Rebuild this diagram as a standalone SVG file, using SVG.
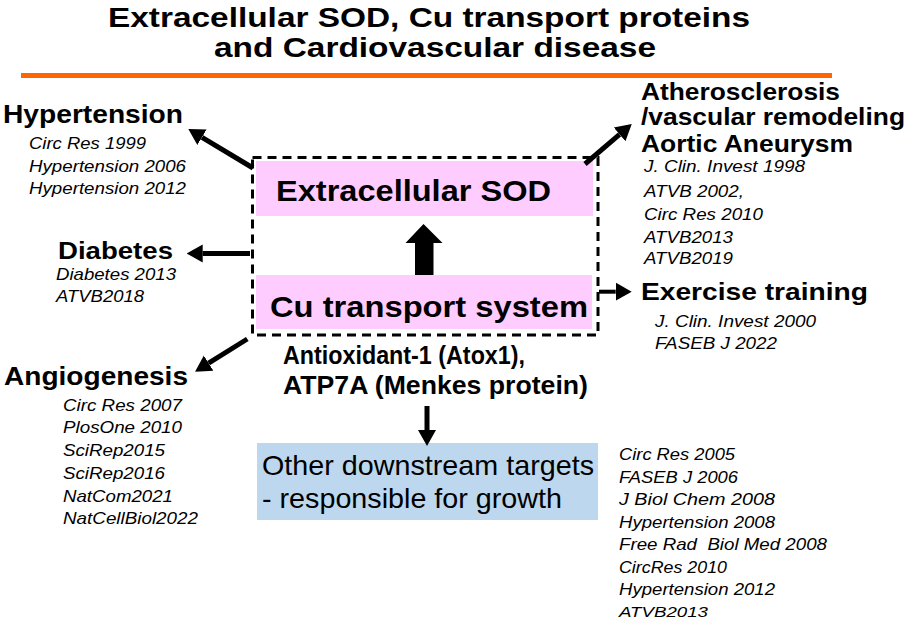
<svg xmlns="http://www.w3.org/2000/svg" width="907" height="621" viewBox="0 0 907 621">
<style>
text{font-family:"Liberation Sans",Arial,sans-serif;fill:#000}
.t{font-weight:bold;font-size:28px}
.h{font-weight:bold;font-size:25px}
.c{font-weight:bold;font-size:30px}
.s{font-weight:bold;font-size:24px}
.p{font-weight:bold;font-size:25px}
.r{font-style:italic;font-size:17px}
.b{font-size:28px}
.arr{stroke:#000;stroke-width:5;fill:none;marker-end:url(#ah)}
</style>
<defs>
<marker id="ah" viewBox="0 -10 16 20" refX="0" refY="0" markerWidth="16" markerHeight="20" markerUnits="userSpaceOnUse" orient="auto">
<path d="M0,-9 L16,0 L0,9 z" fill="#000"/>
</marker>
</defs>
<rect width="907" height="621" fill="#fff"/>
<g id="title">
<text class="t" x="108" y="27" textLength="642" lengthAdjust="spacingAndGlyphs">Extracellular SOD, Cu transport proteins</text>
<text class="t" x="214" y="57" textLength="442" lengthAdjust="spacingAndGlyphs">and Cardiovascular disease</text>
<rect x="21" y="73" width="811" height="5" fill="#FF6600"/>
</g>
<g id="center">
<rect x="252.5" y="157.5" width="345.5" height="177.5" fill="none" stroke="#000" stroke-width="3" stroke-dasharray="9 6"/>
</g>
<g id="ecsod">
<rect x="256" y="161" width="337" height="55" fill="#FFCCFF"/>
<text class="c" x="276" y="201" textLength="275" lengthAdjust="spacingAndGlyphs">Extracellular SOD</text>
</g>
<g id="cu">
<rect x="256" y="275" width="336" height="54" fill="#FFCCFF"/>
<text class="c" x="270" y="317" textLength="318" lengthAdjust="spacingAndGlyphs">Cu transport system</text>
</g>
<g id="proteins">
<text class="p" x="283" y="364" textLength="242" lengthAdjust="spacingAndGlyphs">Antioxidant-1 (Atox1),</text>
<text class="p" x="283" y="394" textLength="305" lengthAdjust="spacingAndGlyphs">ATP7A (Menkes protein)</text>
</g>
<g id="downstream">
<rect x="257" y="443" width="341" height="77" fill="#BDD7EE"/>
<text class="b" x="262" y="475" textLength="332" lengthAdjust="spacingAndGlyphs">Other downstream targets</text>
<text class="b" x="262" y="508" textLength="300" lengthAdjust="spacingAndGlyphs">- responsible for growth</text>
</g>
<g id="hypertension">
<text class="h" x="3" y="123" textLength="180" lengthAdjust="spacingAndGlyphs">Hypertension</text>
<text class="r" x="29" y="149" textLength="117" lengthAdjust="spacingAndGlyphs">Circ Res 1999</text>
<text class="r" x="29" y="172" textLength="157" lengthAdjust="spacingAndGlyphs">Hypertension 2006</text>
<text class="r" x="29" y="194" textLength="157" lengthAdjust="spacingAndGlyphs">Hypertension 2012</text>
</g>
<g id="diabetes">
<text class="s" x="58" y="259" textLength="115" lengthAdjust="spacingAndGlyphs">Diabetes</text>
<text class="r" x="56" y="280" textLength="120" lengthAdjust="spacingAndGlyphs">Diabetes 2013</text>
<text class="r" x="56" y="302" textLength="88" lengthAdjust="spacingAndGlyphs">ATVB2018</text>
</g>
<g id="angiogenesis">
<text class="h" x="4" y="385" textLength="184" lengthAdjust="spacingAndGlyphs">Angiogenesis</text>
<text class="r" x="63" y="411" textLength="119" lengthAdjust="spacingAndGlyphs">Circ Res 2007</text>
<text class="r" x="63" y="433" textLength="119" lengthAdjust="spacingAndGlyphs">PlosOne 2010</text>
<text class="r" x="63" y="456" textLength="102" lengthAdjust="spacingAndGlyphs">SciRep2015</text>
<text class="r" x="63" y="479" textLength="102" lengthAdjust="spacingAndGlyphs">SciRep2016</text>
<text class="r" x="63" y="502" textLength="110" lengthAdjust="spacingAndGlyphs">NatCom2021</text>
<text class="r" x="63" y="524" textLength="135" lengthAdjust="spacingAndGlyphs">NatCellBiol2022</text>
</g>
<g id="atherosclerosis">
<text class="s" x="641" y="100" textLength="199" lengthAdjust="spacingAndGlyphs">Atherosclerosis</text>
<text class="s" x="641" y="124.5" textLength="264" lengthAdjust="spacingAndGlyphs">/vascular remodeling</text>
<text class="s" x="641" y="152" textLength="212" lengthAdjust="spacingAndGlyphs">Aortic Aneurysm</text>
<text class="r" x="644" y="172" textLength="161" lengthAdjust="spacingAndGlyphs">J. Clin. Invest 1998</text>
<text class="r" x="644" y="197" textLength="100" lengthAdjust="spacingAndGlyphs">ATVB 2002,</text>
<text class="r" x="644" y="220" textLength="119" lengthAdjust="spacingAndGlyphs">Circ Res 2010</text>
<text class="r" x="644" y="243" textLength="89" lengthAdjust="spacingAndGlyphs">ATVB2013</text>
<text class="r" x="644" y="264" textLength="89" lengthAdjust="spacingAndGlyphs">ATVB2019</text>
</g>
<g id="exercise">
<text class="s" x="641" y="300" textLength="227" lengthAdjust="spacingAndGlyphs">Exercise training</text>
<text class="r" x="655" y="327" textLength="161" lengthAdjust="spacingAndGlyphs">J. Clin. Invest 2000</text>
<text class="r" x="655" y="349" textLength="122" lengthAdjust="spacingAndGlyphs">FASEB J 2022</text>
</g>
<g id="downstream-refs">
<text class="r" x="619" y="460" textLength="116" lengthAdjust="spacingAndGlyphs">Circ Res 2005</text>
<text class="r" x="619" y="483" textLength="119" lengthAdjust="spacingAndGlyphs">FASEB J 2006</text>
<text class="r" x="619" y="505" textLength="156" lengthAdjust="spacingAndGlyphs">J Biol Chem 2008</text>
<text class="r" x="619" y="528" textLength="156" lengthAdjust="spacingAndGlyphs">Hypertension 2008</text>
<text class="r" x="619" y="550" textLength="208" lengthAdjust="spacingAndGlyphs" xml:space="preserve">Free Rad  Biol Med 2008</text>
<text class="r" x="619" y="573" textLength="108" lengthAdjust="spacingAndGlyphs">CircRes 2010</text>
<text class="r" x="619" y="595" textLength="156" lengthAdjust="spacingAndGlyphs">Hypertension 2012</text>
<text class="r" x="619" y="617" style="font-size:15px" textLength="89" lengthAdjust="spacingAndGlyphs">ATVB2013</text>
</g>
<g id="connectors">
<polygon points="423.5,224 442.5,243 433.5,243 433.5,275 415,275 415,243 405.5,243" fill="#000"/>
<line class="arr" x1="253" y1="168" x2="202" y2="137.3"/>
<line class="arr" x1="250" y1="253.5" x2="202.7" y2="253.5"/>
<line class="arr" x1="247.3" y1="339" x2="208.6" y2="363.2"/>
<line class="arr" x1="585" y1="164" x2="619.6" y2="134.4"/>
<line class="arr" x1="599" y1="291.7" x2="615.7" y2="291.7" style="stroke-width:4"/>
<line class="arr" x1="427" y1="406" x2="427" y2="430"/>
</g>
</svg>
